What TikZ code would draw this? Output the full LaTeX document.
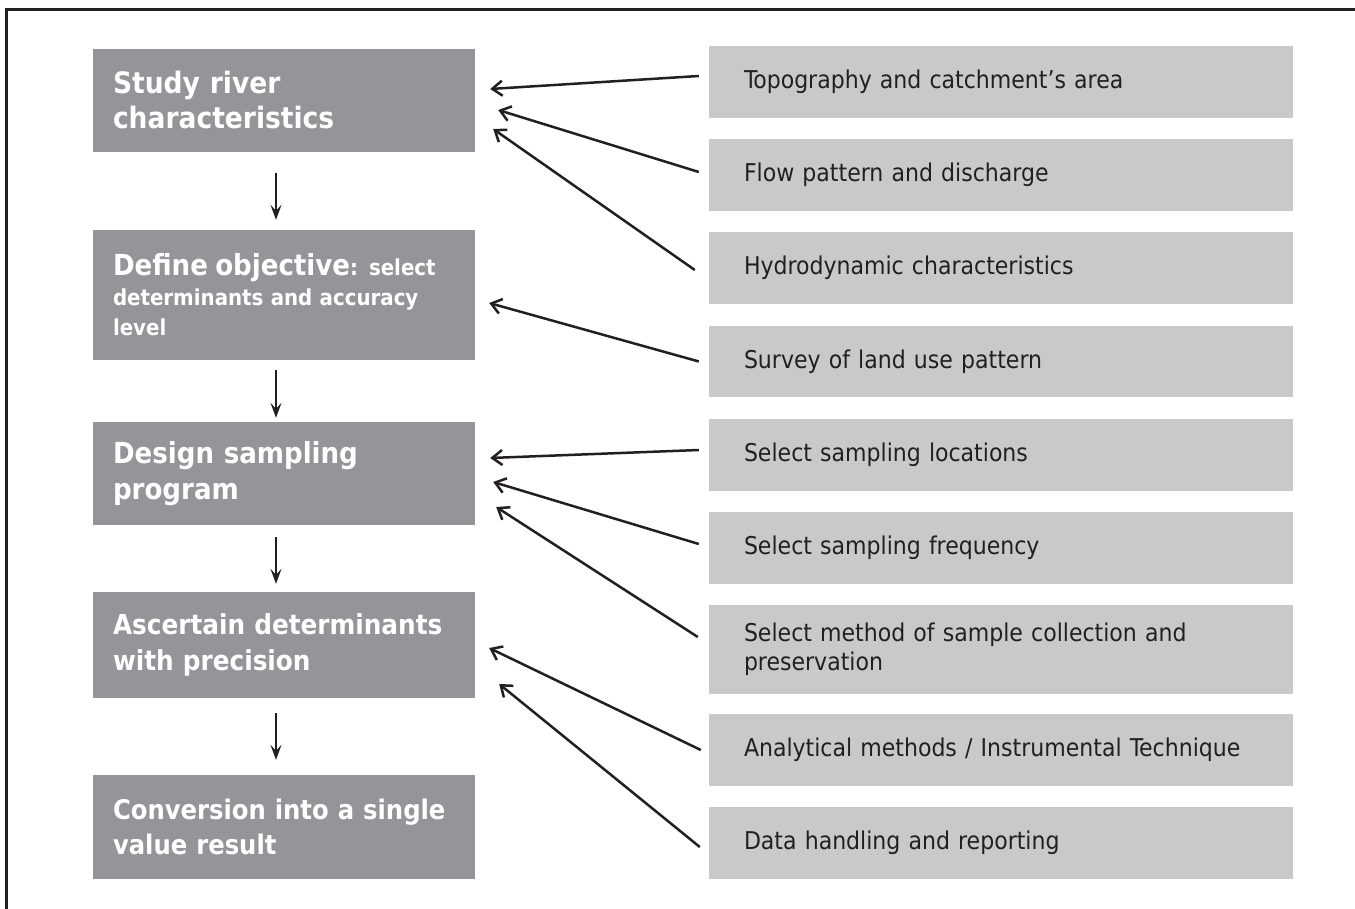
\documentclass[tikz,border=0pt]{standalone}
\usepackage{fontspec}
\setmainfont{DejaVu Sans Condensed}
\usetikzlibrary{arrows.meta}
\definecolor{stepgray}{HTML}{939598}
\definecolor{itemgray}{HTML}{C8C9CB}
\definecolor{inkdark}{HTML}{231F20}
\begin{document}
\begin{tikzpicture}[x=1pt,y=-1pt,
  stepbox/.style={fill=stepgray, draw=none, minimum width=382pt, inner xsep=20pt,
    text width=342pt, align=left, text=white,
    font=\fontsize{28}{35}\selectfont\bfseries},
  itembox/.style={fill=itemgray, draw=none, minimum width=584pt, inner xsep=35pt,
    text width=514pt, align=left, text=inkdark,
    font=\fontsize{24.5}{29}\selectfont},
  flowarrow/.style={-{Stealth[length=15pt,width=11pt,inset=6pt]}, line width=2.3pt, draw=inkdark},
  feedarrow/.style={-{Straight Barb[length=10pt,width=15pt]}, line width=2.5pt, draw=inkdark}
]
\useasboundingbox (0,0) rectangle (1355,909);
% partial frame: top and left edges
\draw[line width=3pt, draw=inkdark] (1355,10) -- (6,10) -- (6,909);

% main steps
\node[stepbox, minimum height=103pt, font=\fontsize{29.5}{35}\selectfont\bfseries] (L1) at (284,100.5)
  {Study river\\characteristics};
\node[stepbox, minimum height=130pt, font=\fontsize{22}{30}\selectfont\bfseries] (L2) at (284,295)
  {{\fontsize{29}{30}\selectfont Define objective}: select\\determinants and accuracy\\level};
\node[stepbox, minimum height=103pt, font=\fontsize{29}{36}\selectfont\bfseries] (L3) at (284,473.5)
  {Design sampling\\program};
\node[stepbox, minimum height=106pt, font=\fontsize{27.5}{36}\selectfont\bfseries] (L4) at (284,645)
  {Ascertain determinants\\with precision};
\node[stepbox, minimum height=104pt, font=\fontsize{27}{35}\selectfont\bfseries] (L5) at (284,827)
  {Conversion into a single\\value result};

% contributing activities
\node[itembox, minimum height=72pt] (R1) at (1001,82) {Topography and catchment’s area};
\node[itembox, minimum height=72pt] (R2) at (1001,175) {Flow pattern and discharge};
\node[itembox, minimum height=72pt] (R3) at (1001,268) {Hydrodynamic characteristics};
\node[itembox, minimum height=71pt] (R4) at (1001,361.5) {Survey of land use pattern};
\node[itembox, minimum height=72pt] (R5) at (1001,455) {Select sampling locations};
\node[itembox, minimum height=72pt] (R6) at (1001,548) {Select sampling frequency};
\node[itembox, minimum height=89pt] (R7) at (1001,649.5) {Select method of sample collection and\\preservation};
\node[itembox, minimum height=72pt] (R8) at (1001,750) {Analytical methods / Instrumental Technique};
\node[itembox, minimum height=72pt] (R9) at (1001,843) {Data handling and reporting};

% flow between steps
\draw[flowarrow] ([xshift=-8pt,yshift=-21pt]L1.south) -- ([xshift=-8pt,yshift=10pt]L2.north);
\draw[flowarrow] ([xshift=-8pt,yshift=-10pt]L2.south) -- ([xshift=-8pt,yshift=4pt]L3.north);
\draw[flowarrow] ([xshift=-8pt,yshift=-12pt]L3.south) -- ([xshift=-8pt,yshift=8pt]L4.north);
\draw[flowarrow] ([xshift=-8pt,yshift=-15pt]L4.south) -- ([xshift=-8pt,yshift=15pt]L5.north);

% activities feeding the steps
\draw[feedarrow] ([xshift=-10pt,yshift=6pt]R1.west) -- ([xshift=15pt,yshift=11.5pt]L1.east);
\draw[feedarrow] ([xshift=-10pt,yshift=3pt]R2.west) -- ([xshift=23pt,yshift=-9.5pt]L1.east);
\draw[feedarrow] ([xshift=-14pt,yshift=-2pt]R3.west) -- ([xshift=18pt,yshift=-28.5pt]L1.east);
\draw[feedarrow] ([xshift=-10pt,yshift=0pt]R4.west) -- ([xshift=14pt,yshift=-8pt]L2.east);
\draw[feedarrow] ([xshift=-10pt,yshift=5pt]R5.west) -- ([xshift=15pt,yshift=15.5pt]L3.east);
\draw[feedarrow] ([xshift=-10pt,yshift=4pt]R6.west) -- ([xshift=18pt,yshift=-8.5pt]L3.east);
\draw[feedarrow] ([xshift=-11pt,yshift=12.5pt]R7.west) -- ([xshift=21pt,yshift=-33.5pt]L3.east);
\draw[feedarrow] ([xshift=-8pt,yshift=0pt]R8.west) -- ([xshift=14pt,yshift=-3pt]L4.east);
\draw[feedarrow] ([xshift=-9pt,yshift=-4pt]R9.west) -- ([xshift=24pt,yshift=-39pt]L4.east);
\end{tikzpicture}
\end{document}
